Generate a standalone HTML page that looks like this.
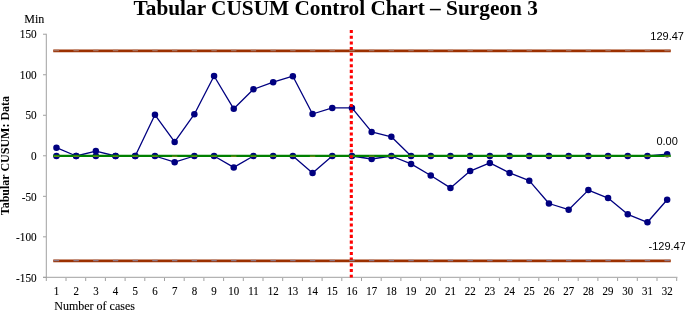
<!DOCTYPE html>
<html><head><meta charset="utf-8"><style>
html,body{margin:0;padding:0;background:#fff;width:685px;height:310px;overflow:hidden;position:relative}
</style></head><body>
<svg width="685" height="310" viewBox="0 0 685 310" style="position:absolute;left:0;top:0;will-change:transform">
<g stroke="#A0A0A0" stroke-width="1" fill="none">
<line x1="46.3" y1="33.7" x2="46.3" y2="281"/>
<line x1="43" y1="277.3" x2="677.5" y2="277.3"/>
<line x1="43" y1="34.23" x2="46" y2="34.23"/>
<line x1="43" y1="74.75" x2="46" y2="74.75"/>
<line x1="43" y1="115.27" x2="46" y2="115.27"/>
<line x1="43" y1="155.79" x2="46" y2="155.79"/>
<line x1="43" y1="196.32" x2="46" y2="196.32"/>
<line x1="43" y1="236.84" x2="46" y2="236.84"/>
<line x1="43" y1="277.36" x2="46" y2="277.36"/>
</g>
<g stroke="#A0A0A0" stroke-width="1">
<line x1="66.00" y1="278" x2="66.00" y2="281"/>
<line x1="85.70" y1="278" x2="85.70" y2="281"/>
<line x1="105.40" y1="278" x2="105.40" y2="281"/>
<line x1="125.10" y1="278" x2="125.10" y2="281"/>
<line x1="144.80" y1="278" x2="144.80" y2="281"/>
<line x1="164.50" y1="278" x2="164.50" y2="281"/>
<line x1="184.20" y1="278" x2="184.20" y2="281"/>
<line x1="203.90" y1="278" x2="203.90" y2="281"/>
<line x1="223.60" y1="278" x2="223.60" y2="281"/>
<line x1="243.30" y1="278" x2="243.30" y2="281"/>
<line x1="263.00" y1="278" x2="263.00" y2="281"/>
<line x1="282.70" y1="278" x2="282.70" y2="281"/>
<line x1="302.40" y1="278" x2="302.40" y2="281"/>
<line x1="322.10" y1="278" x2="322.10" y2="281"/>
<line x1="341.80" y1="278" x2="341.80" y2="281"/>
<line x1="361.50" y1="278" x2="361.50" y2="281"/>
<line x1="381.20" y1="278" x2="381.20" y2="281"/>
<line x1="400.90" y1="278" x2="400.90" y2="281"/>
<line x1="420.60" y1="278" x2="420.60" y2="281"/>
<line x1="440.30" y1="278" x2="440.30" y2="281"/>
<line x1="460.00" y1="278" x2="460.00" y2="281"/>
<line x1="479.70" y1="278" x2="479.70" y2="281"/>
<line x1="499.40" y1="278" x2="499.40" y2="281"/>
<line x1="519.10" y1="278" x2="519.10" y2="281"/>
<line x1="538.80" y1="278" x2="538.80" y2="281"/>
<line x1="558.50" y1="278" x2="558.50" y2="281"/>
<line x1="578.20" y1="278" x2="578.20" y2="281"/>
<line x1="597.90" y1="278" x2="597.90" y2="281"/>
<line x1="617.60" y1="278" x2="617.60" y2="281"/>
<line x1="637.30" y1="278" x2="637.30" y2="281"/>
<line x1="657.00" y1="278" x2="657.00" y2="281"/>
<line x1="676.70" y1="278" x2="676.70" y2="281"/>
</g>
<polyline points="56.45,147.66 76.15,156.00 95.85,151.10 115.55,156.00 135.25,156.00 154.95,114.80 174.65,141.90 194.35,114.20 214.05,76.00 233.75,108.80 253.45,89.30 273.15,82.20 292.85,76.20 312.55,114.00 332.25,107.90 351.95,107.90 371.65,131.90 391.35,136.80 411.05,156.00 430.75,156.00 450.45,156.00 470.15,156.00 489.85,156.00 509.55,156.00 529.25,156.00 548.95,156.00 568.65,156.00 588.35,156.00 608.05,156.00 627.75,156.00 647.45,156.00 667.15,154.20" fill="none" stroke="#000080" stroke-width="1.3" stroke-linejoin="round"/>
<circle cx="56.45" cy="147.66" r="3.25" fill="#000080"/>
<circle cx="76.15" cy="156.00" r="3.25" fill="#000080"/>
<circle cx="95.85" cy="151.10" r="3.25" fill="#000080"/>
<circle cx="115.55" cy="156.00" r="3.25" fill="#000080"/>
<circle cx="135.25" cy="156.00" r="3.25" fill="#000080"/>
<circle cx="154.95" cy="114.80" r="3.25" fill="#000080"/>
<circle cx="174.65" cy="141.90" r="3.25" fill="#000080"/>
<circle cx="194.35" cy="114.20" r="3.25" fill="#000080"/>
<circle cx="214.05" cy="76.00" r="3.25" fill="#000080"/>
<circle cx="233.75" cy="108.80" r="3.25" fill="#000080"/>
<circle cx="253.45" cy="89.30" r="3.25" fill="#000080"/>
<circle cx="273.15" cy="82.20" r="3.25" fill="#000080"/>
<circle cx="292.85" cy="76.20" r="3.25" fill="#000080"/>
<circle cx="312.55" cy="114.00" r="3.25" fill="#000080"/>
<circle cx="332.25" cy="107.90" r="3.25" fill="#000080"/>
<circle cx="351.95" cy="107.90" r="3.25" fill="#000080"/>
<circle cx="371.65" cy="131.90" r="3.25" fill="#000080"/>
<circle cx="391.35" cy="136.80" r="3.25" fill="#000080"/>
<circle cx="411.05" cy="156.00" r="3.25" fill="#000080"/>
<circle cx="430.75" cy="156.00" r="3.25" fill="#000080"/>
<circle cx="450.45" cy="156.00" r="3.25" fill="#000080"/>
<circle cx="470.15" cy="156.00" r="3.25" fill="#000080"/>
<circle cx="489.85" cy="156.00" r="3.25" fill="#000080"/>
<circle cx="509.55" cy="156.00" r="3.25" fill="#000080"/>
<circle cx="529.25" cy="156.00" r="3.25" fill="#000080"/>
<circle cx="548.95" cy="156.00" r="3.25" fill="#000080"/>
<circle cx="568.65" cy="156.00" r="3.25" fill="#000080"/>
<circle cx="588.35" cy="156.00" r="3.25" fill="#000080"/>
<circle cx="608.05" cy="156.00" r="3.25" fill="#000080"/>
<circle cx="627.75" cy="156.00" r="3.25" fill="#000080"/>
<circle cx="647.45" cy="156.00" r="3.25" fill="#000080"/>
<circle cx="667.15" cy="154.20" r="3.25" fill="#000080"/>
<polyline points="56.45,156.00 76.15,156.00 95.85,156.00 115.55,156.00 135.25,156.00 154.95,156.00 174.65,162.20 194.35,156.00 214.05,156.00 233.75,167.40 253.45,156.00 273.15,156.00 292.85,156.00 312.55,173.00 332.25,156.00 351.95,156.00 371.65,159.00 391.35,156.00 411.05,163.90 430.75,175.50 450.45,187.90 470.15,171.10 489.85,162.90 509.55,172.90 529.25,180.70 548.95,203.50 568.65,209.70 588.35,190.10 608.05,198.10 627.75,214.30 647.45,222.30 667.15,199.70" fill="none" stroke="#000080" stroke-width="1.3" stroke-linejoin="round"/>
<circle cx="56.45" cy="156.00" r="3.25" fill="#000080"/>
<circle cx="76.15" cy="156.00" r="3.25" fill="#000080"/>
<circle cx="95.85" cy="156.00" r="3.25" fill="#000080"/>
<circle cx="115.55" cy="156.00" r="3.25" fill="#000080"/>
<circle cx="135.25" cy="156.00" r="3.25" fill="#000080"/>
<circle cx="154.95" cy="156.00" r="3.25" fill="#000080"/>
<circle cx="174.65" cy="162.20" r="3.25" fill="#000080"/>
<circle cx="194.35" cy="156.00" r="3.25" fill="#000080"/>
<circle cx="214.05" cy="156.00" r="3.25" fill="#000080"/>
<circle cx="233.75" cy="167.40" r="3.25" fill="#000080"/>
<circle cx="253.45" cy="156.00" r="3.25" fill="#000080"/>
<circle cx="273.15" cy="156.00" r="3.25" fill="#000080"/>
<circle cx="292.85" cy="156.00" r="3.25" fill="#000080"/>
<circle cx="312.55" cy="173.00" r="3.25" fill="#000080"/>
<circle cx="332.25" cy="156.00" r="3.25" fill="#000080"/>
<circle cx="351.95" cy="156.00" r="3.25" fill="#000080"/>
<circle cx="371.65" cy="159.00" r="3.25" fill="#000080"/>
<circle cx="391.35" cy="156.00" r="3.25" fill="#000080"/>
<circle cx="411.05" cy="163.90" r="3.25" fill="#000080"/>
<circle cx="430.75" cy="175.50" r="3.25" fill="#000080"/>
<circle cx="450.45" cy="187.90" r="3.25" fill="#000080"/>
<circle cx="470.15" cy="171.10" r="3.25" fill="#000080"/>
<circle cx="489.85" cy="162.90" r="3.25" fill="#000080"/>
<circle cx="509.55" cy="172.90" r="3.25" fill="#000080"/>
<circle cx="529.25" cy="180.70" r="3.25" fill="#000080"/>
<circle cx="548.95" cy="203.50" r="3.25" fill="#000080"/>
<circle cx="568.65" cy="209.70" r="3.25" fill="#000080"/>
<circle cx="588.35" cy="190.10" r="3.25" fill="#000080"/>
<circle cx="608.05" cy="198.10" r="3.25" fill="#000080"/>
<circle cx="627.75" cy="214.30" r="3.25" fill="#000080"/>
<circle cx="647.45" cy="222.30" r="3.25" fill="#000080"/>
<circle cx="667.15" cy="199.70" r="3.25" fill="#000080"/>
<line x1="53.25" y1="155.85" x2="670.75" y2="155.85" stroke="#008000" stroke-width="2.4"/>
<line x1="53.75" y1="156.25" x2="59.15" y2="156.25" stroke="#6A8C14" stroke-width="1.3"/>
<line x1="73.45" y1="156.25" x2="78.85" y2="156.25" stroke="#6A8C14" stroke-width="1.3"/>
<line x1="93.15" y1="156.25" x2="98.55" y2="156.25" stroke="#6A8C14" stroke-width="1.3"/>
<line x1="112.85" y1="156.25" x2="118.25" y2="156.25" stroke="#6A8C14" stroke-width="1.3"/>
<line x1="132.55" y1="156.25" x2="137.95" y2="156.25" stroke="#6A8C14" stroke-width="1.3"/>
<line x1="152.25" y1="156.25" x2="157.65" y2="156.25" stroke="#6A8C14" stroke-width="1.3"/>
<line x1="171.95" y1="156.25" x2="177.35" y2="156.25" stroke="#6A8C14" stroke-width="1.3"/>
<line x1="191.65" y1="156.25" x2="197.05" y2="156.25" stroke="#6A8C14" stroke-width="1.3"/>
<line x1="211.35" y1="156.25" x2="216.75" y2="156.25" stroke="#6A8C14" stroke-width="1.3"/>
<line x1="231.05" y1="156.25" x2="236.45" y2="156.25" stroke="#6A8C14" stroke-width="1.3"/>
<line x1="250.75" y1="156.25" x2="256.15" y2="156.25" stroke="#6A8C14" stroke-width="1.3"/>
<line x1="270.45" y1="156.25" x2="275.85" y2="156.25" stroke="#6A8C14" stroke-width="1.3"/>
<line x1="290.15" y1="156.25" x2="295.55" y2="156.25" stroke="#6A8C14" stroke-width="1.3"/>
<line x1="309.85" y1="156.25" x2="315.25" y2="156.25" stroke="#6A8C14" stroke-width="1.3"/>
<line x1="329.55" y1="156.25" x2="334.95" y2="156.25" stroke="#6A8C14" stroke-width="1.3"/>
<line x1="349.25" y1="156.25" x2="354.65" y2="156.25" stroke="#6A8C14" stroke-width="1.3"/>
<line x1="368.95" y1="156.25" x2="374.35" y2="156.25" stroke="#6A8C14" stroke-width="1.3"/>
<line x1="388.65" y1="156.25" x2="394.05" y2="156.25" stroke="#6A8C14" stroke-width="1.3"/>
<line x1="408.35" y1="156.25" x2="413.75" y2="156.25" stroke="#6A8C14" stroke-width="1.3"/>
<line x1="428.05" y1="156.25" x2="433.45" y2="156.25" stroke="#6A8C14" stroke-width="1.3"/>
<line x1="447.75" y1="156.25" x2="453.15" y2="156.25" stroke="#6A8C14" stroke-width="1.3"/>
<line x1="467.45" y1="156.25" x2="472.85" y2="156.25" stroke="#6A8C14" stroke-width="1.3"/>
<line x1="487.15" y1="156.25" x2="492.55" y2="156.25" stroke="#6A8C14" stroke-width="1.3"/>
<line x1="506.85" y1="156.25" x2="512.25" y2="156.25" stroke="#6A8C14" stroke-width="1.3"/>
<line x1="526.55" y1="156.25" x2="531.95" y2="156.25" stroke="#6A8C14" stroke-width="1.3"/>
<line x1="546.25" y1="156.25" x2="551.65" y2="156.25" stroke="#6A8C14" stroke-width="1.3"/>
<line x1="565.95" y1="156.25" x2="571.35" y2="156.25" stroke="#6A8C14" stroke-width="1.3"/>
<line x1="585.65" y1="156.25" x2="591.05" y2="156.25" stroke="#6A8C14" stroke-width="1.3"/>
<line x1="605.35" y1="156.25" x2="610.75" y2="156.25" stroke="#6A8C14" stroke-width="1.3"/>
<line x1="625.05" y1="156.25" x2="630.45" y2="156.25" stroke="#6A8C14" stroke-width="1.3"/>
<line x1="644.75" y1="156.25" x2="650.15" y2="156.25" stroke="#6A8C14" stroke-width="1.3"/>
<line x1="664.45" y1="156.25" x2="669.85" y2="156.25" stroke="#6A8C14" stroke-width="1.3"/>
<line x1="351.3" y1="30" x2="351.3" y2="277.5" stroke="#FF0000" stroke-width="3.1" stroke-dasharray="3.1 2.59"/>
<line x1="53.25" y1="50.85" x2="670.75" y2="50.85" stroke="#9C3000" stroke-width="2.7"/>
<line x1="53.75" y1="50.55" x2="59.15" y2="50.55" stroke="#A46C58" stroke-width="1.4"/>
<line x1="73.45" y1="50.55" x2="78.85" y2="50.55" stroke="#A46C58" stroke-width="1.4"/>
<line x1="93.15" y1="50.55" x2="98.55" y2="50.55" stroke="#A46C58" stroke-width="1.4"/>
<line x1="112.85" y1="50.55" x2="118.25" y2="50.55" stroke="#A46C58" stroke-width="1.4"/>
<line x1="132.55" y1="50.55" x2="137.95" y2="50.55" stroke="#A46C58" stroke-width="1.4"/>
<line x1="152.25" y1="50.55" x2="157.65" y2="50.55" stroke="#A46C58" stroke-width="1.4"/>
<line x1="171.95" y1="50.55" x2="177.35" y2="50.55" stroke="#A46C58" stroke-width="1.4"/>
<line x1="191.65" y1="50.55" x2="197.05" y2="50.55" stroke="#A46C58" stroke-width="1.4"/>
<line x1="211.35" y1="50.55" x2="216.75" y2="50.55" stroke="#A46C58" stroke-width="1.4"/>
<line x1="231.05" y1="50.55" x2="236.45" y2="50.55" stroke="#A46C58" stroke-width="1.4"/>
<line x1="250.75" y1="50.55" x2="256.15" y2="50.55" stroke="#A46C58" stroke-width="1.4"/>
<line x1="270.45" y1="50.55" x2="275.85" y2="50.55" stroke="#A46C58" stroke-width="1.4"/>
<line x1="290.15" y1="50.55" x2="295.55" y2="50.55" stroke="#A46C58" stroke-width="1.4"/>
<line x1="309.85" y1="50.55" x2="315.25" y2="50.55" stroke="#A46C58" stroke-width="1.4"/>
<line x1="329.55" y1="50.55" x2="334.95" y2="50.55" stroke="#A46C58" stroke-width="1.4"/>
<line x1="349.25" y1="50.55" x2="354.65" y2="50.55" stroke="#A46C58" stroke-width="1.4"/>
<line x1="368.95" y1="50.55" x2="374.35" y2="50.55" stroke="#A46C58" stroke-width="1.4"/>
<line x1="388.65" y1="50.55" x2="394.05" y2="50.55" stroke="#A46C58" stroke-width="1.4"/>
<line x1="408.35" y1="50.55" x2="413.75" y2="50.55" stroke="#A46C58" stroke-width="1.4"/>
<line x1="428.05" y1="50.55" x2="433.45" y2="50.55" stroke="#A46C58" stroke-width="1.4"/>
<line x1="447.75" y1="50.55" x2="453.15" y2="50.55" stroke="#A46C58" stroke-width="1.4"/>
<line x1="467.45" y1="50.55" x2="472.85" y2="50.55" stroke="#A46C58" stroke-width="1.4"/>
<line x1="487.15" y1="50.55" x2="492.55" y2="50.55" stroke="#A46C58" stroke-width="1.4"/>
<line x1="506.85" y1="50.55" x2="512.25" y2="50.55" stroke="#A46C58" stroke-width="1.4"/>
<line x1="526.55" y1="50.55" x2="531.95" y2="50.55" stroke="#A46C58" stroke-width="1.4"/>
<line x1="546.25" y1="50.55" x2="551.65" y2="50.55" stroke="#A46C58" stroke-width="1.4"/>
<line x1="565.95" y1="50.55" x2="571.35" y2="50.55" stroke="#A46C58" stroke-width="1.4"/>
<line x1="585.65" y1="50.55" x2="591.05" y2="50.55" stroke="#A46C58" stroke-width="1.4"/>
<line x1="605.35" y1="50.55" x2="610.75" y2="50.55" stroke="#A46C58" stroke-width="1.4"/>
<line x1="625.05" y1="50.55" x2="630.45" y2="50.55" stroke="#A46C58" stroke-width="1.4"/>
<line x1="644.75" y1="50.55" x2="650.15" y2="50.55" stroke="#A46C58" stroke-width="1.4"/>
<line x1="664.45" y1="50.55" x2="669.85" y2="50.55" stroke="#A46C58" stroke-width="1.4"/>
<line x1="53.25" y1="260.85" x2="670.75" y2="260.85" stroke="#9C3000" stroke-width="2.7"/>
<line x1="53.75" y1="260.55" x2="59.15" y2="260.55" stroke="#8C7482" stroke-width="1.4"/>
<line x1="73.45" y1="260.55" x2="78.85" y2="260.55" stroke="#8C7482" stroke-width="1.4"/>
<line x1="93.15" y1="260.55" x2="98.55" y2="260.55" stroke="#8C7482" stroke-width="1.4"/>
<line x1="112.85" y1="260.55" x2="118.25" y2="260.55" stroke="#8C7482" stroke-width="1.4"/>
<line x1="132.55" y1="260.55" x2="137.95" y2="260.55" stroke="#8C7482" stroke-width="1.4"/>
<line x1="152.25" y1="260.55" x2="157.65" y2="260.55" stroke="#8C7482" stroke-width="1.4"/>
<line x1="171.95" y1="260.55" x2="177.35" y2="260.55" stroke="#8C7482" stroke-width="1.4"/>
<line x1="191.65" y1="260.55" x2="197.05" y2="260.55" stroke="#8C7482" stroke-width="1.4"/>
<line x1="211.35" y1="260.55" x2="216.75" y2="260.55" stroke="#8C7482" stroke-width="1.4"/>
<line x1="231.05" y1="260.55" x2="236.45" y2="260.55" stroke="#8C7482" stroke-width="1.4"/>
<line x1="250.75" y1="260.55" x2="256.15" y2="260.55" stroke="#8C7482" stroke-width="1.4"/>
<line x1="270.45" y1="260.55" x2="275.85" y2="260.55" stroke="#8C7482" stroke-width="1.4"/>
<line x1="290.15" y1="260.55" x2="295.55" y2="260.55" stroke="#8C7482" stroke-width="1.4"/>
<line x1="309.85" y1="260.55" x2="315.25" y2="260.55" stroke="#8C7482" stroke-width="1.4"/>
<line x1="329.55" y1="260.55" x2="334.95" y2="260.55" stroke="#8C7482" stroke-width="1.4"/>
<line x1="349.25" y1="260.55" x2="354.65" y2="260.55" stroke="#8C7482" stroke-width="1.4"/>
<line x1="368.95" y1="260.55" x2="374.35" y2="260.55" stroke="#8C7482" stroke-width="1.4"/>
<line x1="388.65" y1="260.55" x2="394.05" y2="260.55" stroke="#8C7482" stroke-width="1.4"/>
<line x1="408.35" y1="260.55" x2="413.75" y2="260.55" stroke="#8C7482" stroke-width="1.4"/>
<line x1="428.05" y1="260.55" x2="433.45" y2="260.55" stroke="#8C7482" stroke-width="1.4"/>
<line x1="447.75" y1="260.55" x2="453.15" y2="260.55" stroke="#8C7482" stroke-width="1.4"/>
<line x1="467.45" y1="260.55" x2="472.85" y2="260.55" stroke="#8C7482" stroke-width="1.4"/>
<line x1="487.15" y1="260.55" x2="492.55" y2="260.55" stroke="#8C7482" stroke-width="1.4"/>
<line x1="506.85" y1="260.55" x2="512.25" y2="260.55" stroke="#8C7482" stroke-width="1.4"/>
<line x1="526.55" y1="260.55" x2="531.95" y2="260.55" stroke="#8C7482" stroke-width="1.4"/>
<line x1="546.25" y1="260.55" x2="551.65" y2="260.55" stroke="#8C7482" stroke-width="1.4"/>
<line x1="565.95" y1="260.55" x2="571.35" y2="260.55" stroke="#8C7482" stroke-width="1.4"/>
<line x1="585.65" y1="260.55" x2="591.05" y2="260.55" stroke="#8C7482" stroke-width="1.4"/>
<line x1="605.35" y1="260.55" x2="610.75" y2="260.55" stroke="#8C7482" stroke-width="1.4"/>
<line x1="625.05" y1="260.55" x2="630.45" y2="260.55" stroke="#8C7482" stroke-width="1.4"/>
<line x1="644.75" y1="260.55" x2="650.15" y2="260.55" stroke="#8C7482" stroke-width="1.4"/>
<line x1="664.45" y1="260.55" x2="669.85" y2="260.55" stroke="#8C7482" stroke-width="1.4"/>
<g style="font-family:'Liberation Serif',serif;font-size:12px" fill="#000" stroke="#000" stroke-width="0.12">
<text transform="translate(36.6,38.43) scale(0.87,1)" style="font-size:12.9px" text-anchor="end">150</text>
<text transform="translate(36.6,78.95) scale(0.87,1)" style="font-size:12.9px" text-anchor="end">100</text>
<text transform="translate(36.6,119.47) scale(0.87,1)" style="font-size:12.9px" text-anchor="end">50</text>
<text transform="translate(36.6,159.99) scale(0.87,1)" style="font-size:12.9px" text-anchor="end">0</text>
<text transform="translate(36.6,200.52) scale(0.87,1)" style="font-size:12.9px" text-anchor="end">-50</text>
<text transform="translate(36.6,241.04) scale(0.87,1)" style="font-size:12.9px" text-anchor="end">-100</text>
<text transform="translate(36.6,281.56) scale(0.87,1)" style="font-size:12.9px" text-anchor="end">-150</text>
<text transform="translate(56.45,295.2) scale(0.86,1)" style="font-size:12.7px" text-anchor="middle">1</text>
<text transform="translate(76.15,295.2) scale(0.86,1)" style="font-size:12.7px" text-anchor="middle">2</text>
<text transform="translate(95.85,295.2) scale(0.86,1)" style="font-size:12.7px" text-anchor="middle">3</text>
<text transform="translate(115.55,295.2) scale(0.86,1)" style="font-size:12.7px" text-anchor="middle">4</text>
<text transform="translate(135.25,295.2) scale(0.86,1)" style="font-size:12.7px" text-anchor="middle">5</text>
<text transform="translate(154.95,295.2) scale(0.86,1)" style="font-size:12.7px" text-anchor="middle">6</text>
<text transform="translate(174.65,295.2) scale(0.86,1)" style="font-size:12.7px" text-anchor="middle">7</text>
<text transform="translate(194.35,295.2) scale(0.86,1)" style="font-size:12.7px" text-anchor="middle">8</text>
<text transform="translate(214.05,295.2) scale(0.86,1)" style="font-size:12.7px" text-anchor="middle">9</text>
<text transform="translate(233.75,295.2) scale(0.86,1)" style="font-size:12.7px" text-anchor="middle">10</text>
<text transform="translate(253.45,295.2) scale(0.86,1)" style="font-size:12.7px" text-anchor="middle">11</text>
<text transform="translate(273.15,295.2) scale(0.86,1)" style="font-size:12.7px" text-anchor="middle">12</text>
<text transform="translate(292.85,295.2) scale(0.86,1)" style="font-size:12.7px" text-anchor="middle">13</text>
<text transform="translate(312.55,295.2) scale(0.86,1)" style="font-size:12.7px" text-anchor="middle">14</text>
<text transform="translate(332.25,295.2) scale(0.86,1)" style="font-size:12.7px" text-anchor="middle">15</text>
<text transform="translate(351.95,295.2) scale(0.86,1)" style="font-size:12.7px" text-anchor="middle">16</text>
<text transform="translate(371.65,295.2) scale(0.86,1)" style="font-size:12.7px" text-anchor="middle">17</text>
<text transform="translate(391.35,295.2) scale(0.86,1)" style="font-size:12.7px" text-anchor="middle">18</text>
<text transform="translate(411.05,295.2) scale(0.86,1)" style="font-size:12.7px" text-anchor="middle">19</text>
<text transform="translate(430.75,295.2) scale(0.86,1)" style="font-size:12.7px" text-anchor="middle">20</text>
<text transform="translate(450.45,295.2) scale(0.86,1)" style="font-size:12.7px" text-anchor="middle">21</text>
<text transform="translate(470.15,295.2) scale(0.86,1)" style="font-size:12.7px" text-anchor="middle">22</text>
<text transform="translate(489.85,295.2) scale(0.86,1)" style="font-size:12.7px" text-anchor="middle">23</text>
<text transform="translate(509.55,295.2) scale(0.86,1)" style="font-size:12.7px" text-anchor="middle">24</text>
<text transform="translate(529.25,295.2) scale(0.86,1)" style="font-size:12.7px" text-anchor="middle">25</text>
<text transform="translate(548.95,295.2) scale(0.86,1)" style="font-size:12.7px" text-anchor="middle">26</text>
<text transform="translate(568.65,295.2) scale(0.86,1)" style="font-size:12.7px" text-anchor="middle">27</text>
<text transform="translate(588.35,295.2) scale(0.86,1)" style="font-size:12.7px" text-anchor="middle">28</text>
<text transform="translate(608.05,295.2) scale(0.86,1)" style="font-size:12.7px" text-anchor="middle">29</text>
<text transform="translate(627.75,295.2) scale(0.86,1)" style="font-size:12.7px" text-anchor="middle">30</text>
<text transform="translate(647.45,295.2) scale(0.86,1)" style="font-size:12.7px" text-anchor="middle">31</text>
<text transform="translate(667.15,295.2) scale(0.86,1)" style="font-size:12.7px" text-anchor="middle">32</text>
<text x="54.3" y="310">Number of cases</text>
<text x="24.3" y="23.1">Min</text>
</g>
<text x="133.5" y="14.6" style="font-family:'Liberation Serif',serif;font-size:21.3px;font-weight:bold">Tabular CUSUM Control Chart – Surgeon 3</text>
<text transform="translate(9.2,155.6) rotate(-90)" text-anchor="middle" style="font-family:'Liberation Serif',serif;font-size:12px;font-weight:bold">Tabular CUSUM: Data</text>
<g style="font-family:'Liberation Sans',sans-serif;font-size:11px" fill="#000" text-anchor="middle">
<text x="667.15" y="39.8">129.47</text>
<text x="667.15" y="144.6">0.00</text>
<text x="667.15" y="249.6">-129.47</text>
</g>
</svg>
</body></html>
